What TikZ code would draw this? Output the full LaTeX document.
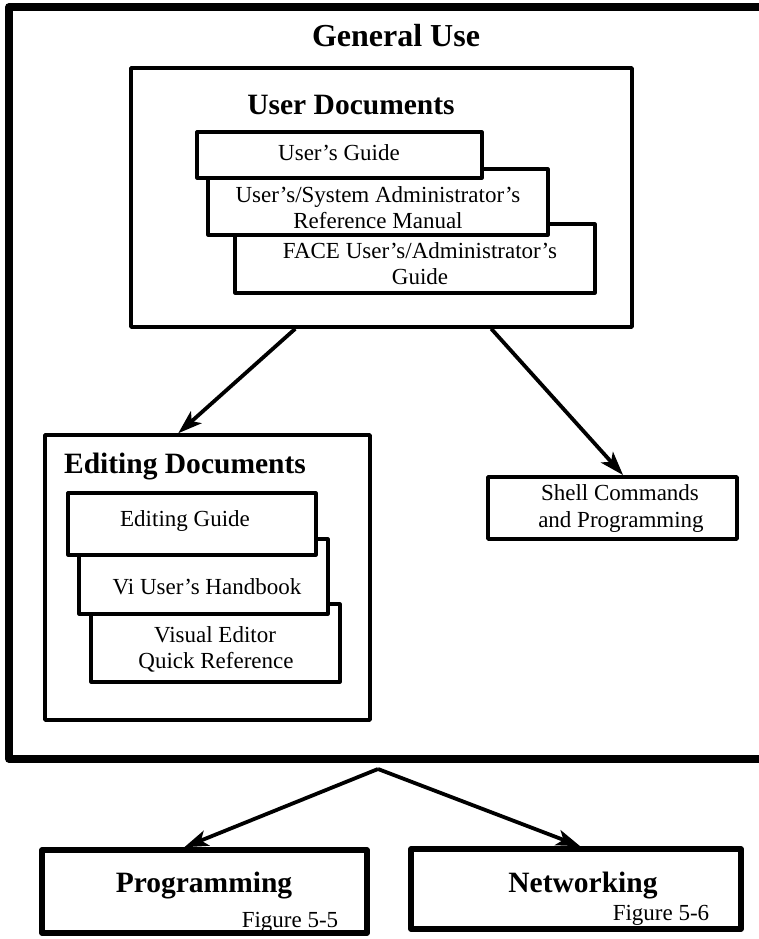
\documentclass[tikz,border=0pt]{standalone}
\usepackage{fontspec}
\setmainfont{Liberation Serif}
\usetikzlibrary{arrows.meta,fit}
\begin{document}
\begin{tikzpicture}[x=1pt,y=-1pt,
  box/.style={draw, line width=3.2pt, fill=white, inner sep=0pt, line join=round},
  groupbox/.style={box, line width=3.5pt},
  shellbox/.style={box, line width=3.8pt},
  bigbox/.style={box, line width=5.5pt},
  frame/.style={box, line width=7.5pt, fill=none},
  arr/.style={line width=3.8pt, -{Stealth[length=24pt,width=16pt,inset=6pt]}},
  bodytxt/.style={inner sep=0pt, anchor=base, font=\fontsize{23}{27}\selectfont},
  headtxt/.style={inner sep=0pt, anchor=base, font=\fontsize{29.5}{34}\selectfont\bfseries},
  titletxt/.style={inner sep=0pt, anchor=base, font=\fontsize{32}{36}\selectfont\bfseries},
  figtxt/.style={inner sep=0pt, anchor=base, font=\fontsize{23}{27}\selectfont}
]
\useasboundingbox (0,0) rectangle (758,939);

% outer frame (open to the right edge)
\node[frame, fit={(9,7)(800,759)}] (gen) {};
\node[titletxt] (tgen) at (396,47) {General Use};

% User Documents group
\node[groupbox, fit={(131,68)(632,327)}] (ud) {};
\node[headtxt] (tud) at (351,115) {User Documents};
\node[box, fit={(235,224)(595,293)}] (face) {};
\node[box, fit={(208,169)(548,235)}] (ref) {};
\node[box, fit={(197,132)(482,178)}] (ug) {};
\node[bodytxt] (tug) at (339,160) {User's Guide};
\node[bodytxt] (tref1) at (378,202) {User's/System Administrator's};
\node[bodytxt] (tref2) at (378,228) {Reference Manual};
\node[bodytxt] (tface1) at (420,258) {FACE User's/Administrator's};
\node[bodytxt] (tface2) at (420,284) {Guide};

% Editing Documents group
\node[groupbox, fit={(45,435)(370,720)}] (ed) {};
\node[headtxt] (ted) at (185,473) {Editing Documents};
\node[box, fit={(91,604)(340,682)}] (ve) {};
\node[box, fit={(79,539)(328,614)}] (vi) {};
\node[box, fit={(68,493)(316,555)}] (eg) {};
\node[bodytxt] (teg) at (185,526) {Editing Guide};
\node[bodytxt] (tvi) at (207,594) {Vi User's Handbook};
\node[bodytxt] (tve1) at (215,642) {Visual Editor};
\node[bodytxt] (tve2) at (216,668) {Quick Reference};

% Shell commands
\node[shellbox, fit={(488,477)(737,539)}] (shell) {};
\node[bodytxt] (tsh1) at (620,500) {Shell Commands};
\node[bodytxt] (tsh2) at (621,527) {and Programming};

% bottom boxes
\node[bigbox, fit={(42,850)(367,933)}] (prog) {};
\node[headtxt] (tprog) at (204,892) {Programming};
\node[figtxt] (fprog) at (290,927) {Figure 5-5};
\node[bigbox, fit={(411,849)(741,929)}] (net) {};
\node[headtxt] (tnet) at (583,892) {Networking};
\node[figtxt] (fnet) at (661,920) {Figure 5-6};

% connectors
\draw[arr] ([xshift=166pt]ud.south west) -- ([xshift=135pt]ed.north west);
\draw[arr] ([xshift=362pt]ud.south west) -- ([xshift=137pt]shell.north west);
\coordinate (apex) at (378,769);
\draw[arr] (apex) -- ([xshift=145pt]prog.north west);
\draw[arr] (apex) -- ([xshift=172pt]net.north west);
\end{tikzpicture}
\end{document}
